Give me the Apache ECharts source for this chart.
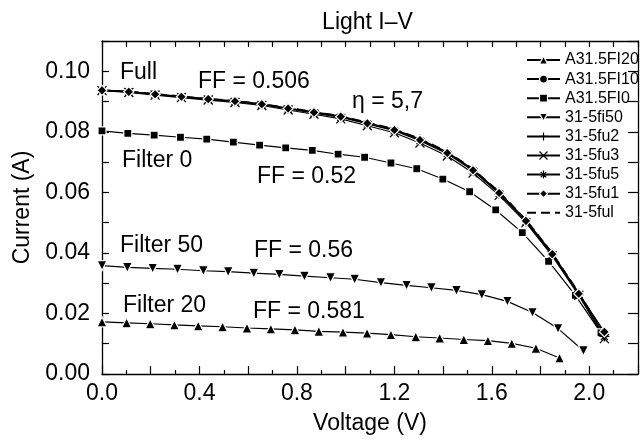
<!DOCTYPE html>
<html><head><meta charset="utf-8">
<script src="https://cdn.jsdelivr.net/npm/echarts@6/dist/echarts.min.js"></script>
<style>html,body{margin:0;padding:0;background:#fff;overflow:hidden}#c{width:641px;height:440px}</style>
</head><body><div id="c"></div><script>
// ---- data ----
const titleText = 'Light I\u2013V';
const xAxisName = 'Voltage (V)';
const yAxisName = 'Current (A)';
const seriesNames = ['A31.5FI20', 'A31.5FI10', 'A31.5FI0', '31-5fi50', '31-5fu2', '31-5fu3', '31-5fu5', '31-5fu1', '31-5ful'];

// Filter 20 (triangles)
const vFilter20 = [0, 0.101, 0.198, 0.297, 0.395, 0.495, 0.595, 0.693, 0.792, 0.890, 0.989, 1.088, 1.186, 1.288, 1.386, 1.485, 1.584, 1.682, 1.781, 1.878];
const iFilter20 = [0.0172, 0.0169, 0.0166, 0.0162, 0.0159, 0.0156, 0.0152, 0.0149, 0.0146, 0.0141, 0.0138, 0.0135, 0.0130, 0.0123, 0.0119, 0.0114, 0.0110, 0.0101, 0.0085, 0.0053];
// A31.5FI10 (circles) - not distinguishable in the plot
const vFilter10 = [];
const iFilter10 = [];
// Filter 0 (squares)
const vFilter0 = [0, 0.106, 0.214, 0.322, 0.430, 0.539, 0.647, 0.754, 0.863, 0.969, 1.078, 1.186, 1.292, 1.399, 1.509, 1.616, 1.725, 1.833, 1.943, 2.048];
const iFilter0 = [0.0803, 0.0795, 0.0789, 0.0782, 0.0776, 0.0766, 0.0756, 0.0747, 0.0739, 0.0726, 0.0716, 0.0697, 0.0678, 0.0644, 0.0602, 0.0542, 0.0467, 0.0372, 0.0260, 0.0136];
// Filter 50 (down triangles)
const vFilter50 = [0, 0.104, 0.208, 0.310, 0.416, 0.518, 0.623, 0.728, 0.831, 0.938, 1.037, 1.145, 1.250, 1.352, 1.455, 1.559, 1.664, 1.767, 1.872, 1.976];
const iFilter50 = [0.0358, 0.0352, 0.0349, 0.0346, 0.0341, 0.0338, 0.0333, 0.0329, 0.0323, 0.0318, 0.0313, 0.0302, 0.0293, 0.0285, 0.0276, 0.0262, 0.0240, 0.0203, 0.0150, 0.0077];
// Full light cluster
const vFull = [0, 0.110, 0.218, 0.326, 0.436, 0.546, 0.656, 0.764, 0.870, 0.980, 1.089, 1.200, 1.305, 1.417, 1.523, 1.630, 1.740, 1.848, 1.957, 2.062];
const iFu2 = [0.0938, 0.0933, 0.0925, 0.0917, 0.0909, 0.0902, 0.0892, 0.0878, 0.0866, 0.0852, 0.0830, 0.0808, 0.0776, 0.0733, 0.0676, 0.0601, 0.0509, 0.0399, 0.0268, 0.0131];
const iFu3 = [0.0936, 0.0930, 0.0921, 0.0913, 0.0905, 0.0897, 0.0887, 0.0872, 0.0858, 0.0843, 0.0820, 0.0797, 0.0763, 0.0720, 0.0664, 0.0590, 0.0500, 0.0390, 0.0260, 0.0117];
const iFu5 = [0.0937, 0.0932, 0.0924, 0.0915, 0.0907, 0.0900, 0.0890, 0.0876, 0.0862, 0.0848, 0.0826, 0.0804, 0.0771, 0.0728, 0.0671, 0.0596, 0.0504, 0.0394, 0.0262, 0.0124];
const iFu1 = [0.0937, 0.0932, 0.0924, 0.0916, 0.0908, 0.0901, 0.0891, 0.0877, 0.0864, 0.0850, 0.0828, 0.0806, 0.0773, 0.0730, 0.0673, 0.0598, 0.0506, 0.0396, 0.0265, 0.0139];
const iFul = [0.0939, 0.0934, 0.0926, 0.0918, 0.0910, 0.0903, 0.0893, 0.0880, 0.0867, 0.0853, 0.0832, 0.0810, 0.0778, 0.0735, 0.0678, 0.0603, 0.0511, 0.0401, 0.0270, 0.0133];
const xTickLabels = ['0.0', '0.4', '0.8', '1.2', '1.6', '2.0'];
const yTickLabels = ['0.00', '0.02', '0.04', '0.06', '0.08', '0.10'];
const annotations = ['Full', 'FF = 0.506', '\u03b7 = 5,7', 'Filter 0', 'FF = 0.52', 'Filter 50', 'FF = 0.56', 'Filter 20', 'FF = 0.581'];

// ---- chart ----
const FONT = '"Liberation Sans", Arial, Helvetica, sans-serif';
const pairs = (v, c) => v.map((x, k) => [x, c[k]]);
const haloStyle = { color: '#000', borderColor: '#fff', borderWidth: 1.2 };
const strokeStyle = { color: '#000', borderColor: '#000', borderWidth: 1.2 };
const lineBase = { color: '#000', width: 1.2 };
const SYM_PLUS = 'path://M5,0L5,10M0,5L10,5';
const SYM_X = 'path://M0,0L10,10M10,0L0,10';
const SYM_AST = 'path://M5,0L5,10M0,5L10,5M1.5,1.5L8.5,8.5M8.5,1.5L1.5,8.5';

function mkSeries(name, data, symbol, size, itemStyle, extra) {
  return Object.assign({
    name, type: 'line', data, symbol, symbolSize: size,
    itemStyle, lineStyle: Object.assign({}, lineBase),
    silent: true, animation: false, z: 3
  }, extra || {});
}

const series = [
  mkSeries(seriesNames[0], pairs(vFilter20, iFilter20), 'triangle', 10, haloStyle),
  mkSeries(seriesNames[1], pairs(vFilter10, iFilter10), 'circle', 7, haloStyle),
  mkSeries(seriesNames[2], pairs(vFilter0, iFilter0), 'rect', 8, haloStyle),
  mkSeries(seriesNames[3], pairs(vFilter50, iFilter50), 'triangle', 10, haloStyle, { symbolRotate: 180 }),
  mkSeries(seriesNames[4], pairs(vFull, iFu2), SYM_PLUS, 9, strokeStyle),
  mkSeries(seriesNames[5], pairs(vFull, iFu3), SYM_X, 9, strokeStyle),
  mkSeries(seriesNames[6], pairs(vFull, iFu5), SYM_AST, 10, strokeStyle),
  mkSeries(seriesNames[7], pairs(vFull, iFu1), 'diamond', 10, haloStyle),
  mkSeries(seriesNames[8], pairs(vFull, iFul), 'none', 0, { color: '#000', opacity: 0 },
    { lineStyle: { color: '#000', width: 1.2, type: [9, 5] } })
];

const ann = (t, x, y) => ({ type: 'text', x, y, silent: true,
  style: { text: t, font: '23px ' + FONT, fill: '#000', align: 'left', verticalAlign: 'middle', textAlign: 'left', textVerticalAlign: 'middle' } });

const option = {
  backgroundColor: '#fff',
  animation: false,
  grid: { left: 102, top: 41, width: 541, height: 336.5, containLabel: false },
  legend: {
    orient: 'vertical', left: 526, top: 52, padding: 0,
    itemWidth: 33, itemHeight: 10, itemGap: 3.1,
    selectedMode: false,
    data: seriesNames,
    itemStyle: { borderWidth: 1.2 },
    textStyle: { fontFamily: FONT, fontSize: 16, color: '#000', lineHeight: 16 }
  },
  xAxis: [{
    type: 'value', position: 'bottom', min: 0, max: 2.2, interval: 0.2,
    name: xAxisName, nameLocation: 'middle', nameGap: 38,
    nameTextStyle: { fontFamily: FONT, fontSize: 23, color: '#000' },
    axisLine: { show: true, onZero: false, lineStyle: { color: '#000', width: 1.3 } },
    axisTick: { show: true, inside: true, length: 8, lineStyle: { color: '#000', width: 1.2 } },
    minorTick: { show: true, splitNumber: 2, length: 4, lineStyle: { color: '#000', width: 1.2 } },
    splitLine: { show: false },
    axisLabel: { margin: 8, fontFamily: FONT, fontSize: 23, color: '#000',
      formatter: v => { const k = Math.round(v * 10); return (k % 4 === 0 && k / 4 < xTickLabels.length) ? xTickLabels[k / 4] : ''; } }
  }, {
    type: 'value', position: 'top', min: 0, max: 2.2, interval: 0.1,
    axisLine: { show: true, onZero: false, lineStyle: { color: '#000', width: 1.3 } },
    axisTick: { show: true, inside: true, length: 6, lineStyle: { color: '#000', width: 1.2 } },
    splitLine: { show: false }, axisLabel: { show: false }
  }],
  yAxis: [{
    type: 'value', position: 'left', min: 0, max: 0.11, interval: 0.01,
    name: yAxisName, nameLocation: 'middle', nameGap: 60, nameRotate: 90,
    nameTextStyle: { fontFamily: FONT, fontSize: 23, color: '#000' },
    axisLine: { show: true, onZero: false, lineStyle: { color: '#000', width: 1.3 } },
    axisTick: { show: true, inside: true, length: 7, lineStyle: { color: '#000', width: 1.2 } },
    splitLine: { show: false },
    axisLabel: { margin: 12, fontFamily: FONT, fontSize: 23, color: '#000',
      formatter: v => { const k = Math.round(v * 100); return (k % 2 === 0 && k / 2 < yTickLabels.length) ? yTickLabels[k / 2] : ''; } }
  }, {
    type: 'value', position: 'right', min: 0, max: 0.11, interval: 0.01,
    axisLine: { show: true, onZero: false, lineStyle: { color: '#000', width: 1.3 } },
    axisTick: { show: true, inside: true, length: 10, lineStyle: { color: '#000', width: 1.2 } },
    splitLine: { show: false }, axisLabel: { show: false }
  }],
  graphic: [
    { type: 'text', x: 367.5, y: 22.5, silent: true,
      style: { text: titleText, font: '23px ' + FONT, fill: '#000', align: 'center', verticalAlign: 'middle', textAlign: 'center', textVerticalAlign: 'middle' } },
    ann(annotations[0], 120, 73),
    ann(annotations[1], 198, 82),
    ann(annotations[2], 352, 102),
    ann(annotations[3], 122, 161),
    ann(annotations[4], 257, 177),
    ann(annotations[5], 120, 246),
    ann(annotations[6], 254, 251),
    ann(annotations[7], 123, 306),
    ann(annotations[8], 253, 312)
  ],
  series
};

const chart = echarts.init(document.getElementById('c'), null, { renderer: 'canvas' });
chart.setOption(option);
</script></body></html>
